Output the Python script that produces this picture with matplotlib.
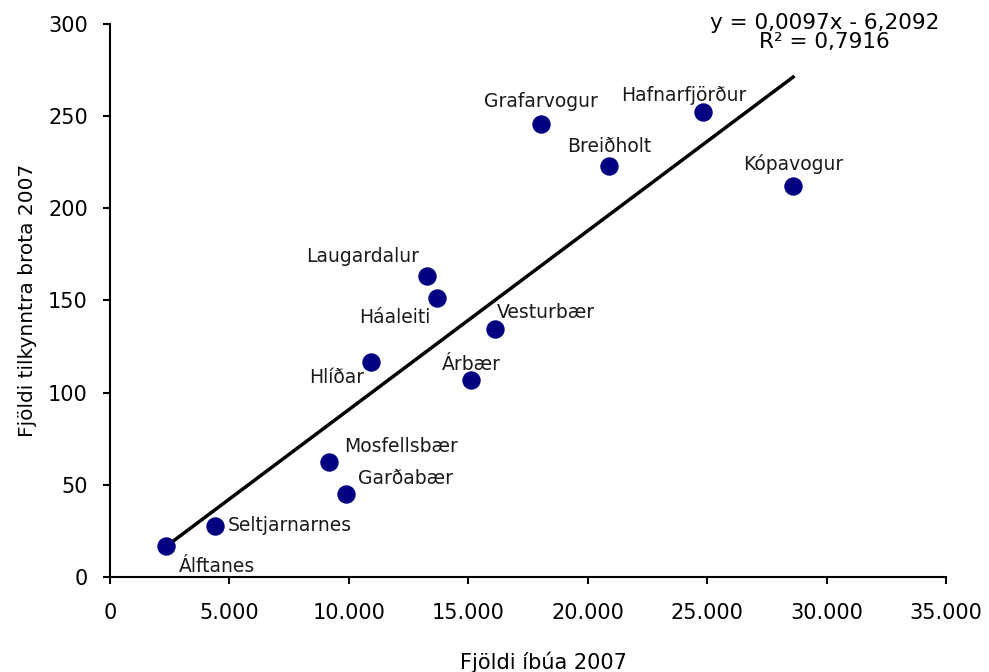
import matplotlib
matplotlib.use('Agg')
import matplotlib.pyplot as plt
import numpy as np
from matplotlib.ticker import FuncFormatter

# hverfi / sveitarfélög
names = ['Álftanes', 'Seltjarnarnes', 'Mosfellsbær', 'Garðabær', 'Hlíðar',
         'Laugardalur', 'Háaleiti', 'Árbær', 'Vesturbær', 'Grafarvogur',
         'Breiðholt', 'Hafnarfjörður', 'Kópavogur']
residents = [2350, 4400, 9170, 9880, 10930, 13280, 13690, 15120, 16120,
             18050, 20900, 24830, 28600]
offences = [16.8, 27.7, 62.4, 45.0, 116.7, 163.3, 151.4, 106.9, 134.6,
            245.8, 223.0, 252.3, 212.2]

slope = 0.0097
intercept = -6.2092
r2 = 0.7916

# label offsets (points) and alignment
label_pos = {
    'Álftanes': (9, -15, 'left'),
    'Seltjarnarnes': (9, 0, 'left'),
    'Mosfellsbær': (11, 11, 'left'),
    'Garðabær': (9, 11, 'left'),
    'Hlíðar': (-5, -11, 'right'),
    'Laugardalur': (-6, 14, 'right'),
    'Háaleiti': (-5, -14, 'right'),
    'Árbær': (0, 11, 'center'),
    'Vesturbær': (1, 12, 'left'),
    'Grafarvogur': (0, 16, 'center'),
    'Breiðholt': (0, 14, 'center'),
    'Hafnarfjörður': (-14, 12, 'center'),
    'Kópavogur': (0, 16, 'center'),
}

fig = plt.figure(figsize=(9.89, 6.72), dpi=100)
ax = fig.add_axes([0.1112, 0.1414, 0.8453, 0.8229])

x = np.array(residents)
ax.plot([x.min(), x.max()], [slope * x.min() + intercept, slope * x.max() + intercept],
        color='black', lw=2.5, zorder=2)
ax.scatter(residents, offences, s=150, color='#000080', zorder=3)

for n, xv, yv in zip(names, residents, offences):
    dx, dy, ha = label_pos[n]
    ax.annotate(n, (xv, yv), xytext=(dx, dy), textcoords='offset points',
                ha=ha, va='center', fontsize=13.5, color='#1a1a1a')

ax.set_xlim(0, 35000)
ax.set_ylim(0, 300)
ax.set_xticks(np.arange(0, 35001, 5000))
ax.set_yticks(np.arange(0, 301, 50))
ax.xaxis.set_major_formatter(FuncFormatter(lambda v, p: f'{int(v):,}'.replace(',', '.')))

for s in ['top', 'right']:
    ax.spines[s].set_visible(False)
for s in ['left', 'bottom']:
    ax.spines[s].set_linewidth(1.5)
ax.tick_params(axis='both', direction='out', length=5, width=1.5, labelsize=15,
               colors='black')
ax.tick_params(axis='x', pad=14)
ax.tick_params(axis='y', pad=11)

ax.set_xlabel('Fjöldi íbúa 2007', fontsize=15, va='center')
ax.xaxis.set_label_coords(0.519, -0.154)
ax.set_ylabel('Fjöldi tilkynntra brota 2007', fontsize=14.5, labelpad=8)

fig.text(0.834, 0.952, f'y = {slope:.4f}x - {abs(intercept):.4f}'.replace('.', ',') +
         '\n' + f'R² = {r2:.4f}'.replace('.', ','),
         ha='center', va='center', multialignment='center', fontsize=15.5, linespacing=0.92)

fig.savefig('out.png', dpi=100)
